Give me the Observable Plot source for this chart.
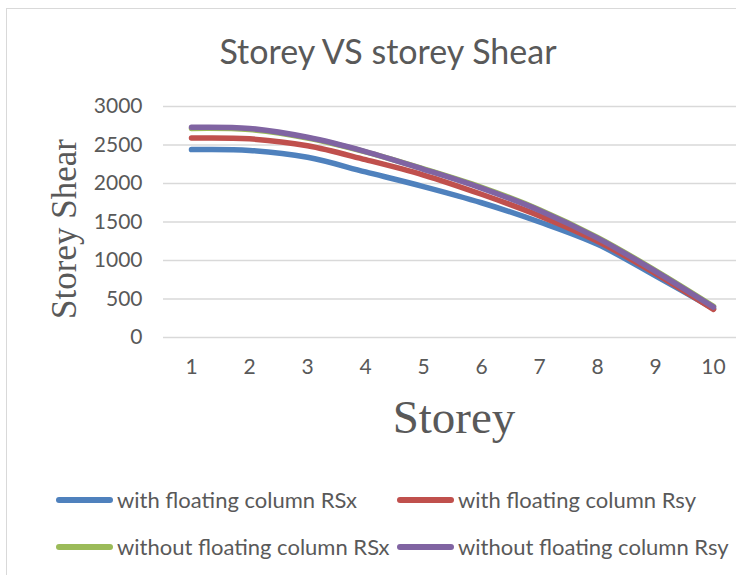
<!DOCTYPE html>
<html>
<head>
<meta charset="utf-8">
<script src="https://cdn.jsdelivr.net/npm/d3@7"></script>
<script src="https://cdn.jsdelivr.net/npm/@observablehq/plot@0.6"></script>
<style>
  html, body { margin: 0; padding: 0; background: #ffffff; }
  #chart { position: relative; width: 736px; height: 575px; overflow: hidden; background: #ffffff; font-family: Lato, "Open Sans", sans-serif; color: #595959; }
  .bt { position: absolute; left: 6px; top: 8px; width: 740px; height: 0; border-top: 1.5px solid #d9d9d9; }
  .bl { position: absolute; left: 6px; top: 8px; width: 0; height: 580px; border-left: 1.5px solid #d9d9d9; }
  #title { position: absolute; left: 20px; top: 31px; width: 736px; text-align: center; font-size: 34px; line-height: 40px; white-space: nowrap; }
  #plot { position: absolute; left: 0; top: 0; }
  .leg { position: absolute; height: 30px; display: flex; align-items: center; font-size: 22px; line-height: 30px; white-space: nowrap; }
  .sw { display: inline-block; width: 57px; height: 5.5px; border-radius: 3px; margin-right: 4px; }
</style>
</head>
<body>
<div id="chart">
  <div class="bt"></div>
  <div class="bl"></div>
  <div id="plot"></div>
  <div id="title"></div>
  <div id="legend"></div>
</div>
<script>
// ---- data ----
const titleText = "Storey VS storey Shear";
const xTitle = "Storey";
const yTitle = "Storey Shear";
const storeys = [1, 2, 3, 4, 5, 6, 7, 8, 9, 10];
const yTicks = [0, 500, 1000, 1500, 2000, 2500, 3000];
const seriesNames = [
  "with floating column RSx",
  "with floating column Rsy",
  "without floating column RSx",
  "without floating column Rsy"
];
const seriesColors = ["#4F81BD", "#C0504D", "#9BBB59", "#8064A2"];
const withRSx     = [2440, 2430, 2340, 2150, 1960, 1750, 1500, 1210, 800, 375];
const withRsy     = [2590, 2580, 2490, 2310, 2110, 1860, 1580, 1250, 830, 365];
const withoutRSx  = [2715, 2700, 2590, 2410, 2190, 1950, 1660, 1300, 870, 405];
const withoutRsy  = [2730, 2715, 2600, 2415, 2185, 1940, 1650, 1290, 860, 395];
const seriesValues = [withRSx, withRsy, withoutRSx, withoutRsy];

const data = seriesNames.flatMap((name, s) =>
  storeys.map((st, i) => ({ storey: st, shear: seriesValues[s][i], series: name }))
);

const plot = Plot.plot({
  width: 736,
  height: 470,
  marginLeft: 163,
  marginRight: 0,
  marginTop: 106,
  marginBottom: 133,
  x: { type: "point", domain: storeys, range: [190, 714], padding: 0 },
  y: { domain: [0, 3000], range: [337, 106] },
  color: { domain: seriesNames, range: seriesColors },
  style: { fontFamily: "Lato, 'Open Sans', sans-serif", fontSize: "21px", color: "#595959", background: "transparent", overflow: "visible" },
  marks: [
    Plot.ruleY(yTicks, { stroke: "#d9d9d9", strokeWidth: 1.5 }),
    Plot.axisY({ ticks: yTicks, tickFormat: d => String(d), tickSize: 0, tickPadding: 21, label: null, fontSize: 21, fill: "#595959" }),
    Plot.axisX({ tickFormat: d => String(d), tickSize: 0, tickPadding: 22, label: null, fontSize: 21, fill: "#595959" }),
    Plot.line(data, {
      x: "storey", y: "shear", stroke: "series", z: "series",
      strokeWidth: 5.5, curve: "catmull-rom", strokeLinecap: "round", strokeLinejoin: "round"
    }),
    Plot.text([xTitle], { text: d => d, frameAnchor: "bottom", textAnchor: "middle", lineAnchor: "middle", dx: 4, dy: 80, fontSize: 47, fontFamily: "'Liberation Serif', 'DejaVu Serif', serif", fill: "#595959" }),
    Plot.text([yTitle], { text: d => d, frameAnchor: "left", textAnchor: "middle", lineAnchor: "middle", dx: -99, dy: 7, rotate: -90, fontSize: 35, fontFamily: "'Liberation Serif', 'DejaVu Serif', serif", fill: "#595959" })
  ]
});
document.getElementById("plot").appendChild(plot);
document.getElementById("title").textContent = titleText;

// legend
const legendPos = [
  { left: 56, top: 485 },
  { left: 397, top: 485 },
  { left: 56, top: 532 },
  { left: 397, top: 532 }
];
const legend = document.getElementById("legend");
seriesNames.forEach((name, i) => {
  const item = document.createElement("div");
  item.className = "leg";
  item.style.left = legendPos[i].left + "px";
  item.style.top = legendPos[i].top + "px";
  const sw = document.createElement("span");
  sw.className = "sw";
  sw.style.background = seriesColors[i];
  const tx = document.createElement("span");
  tx.textContent = name;
  item.appendChild(sw);
  item.appendChild(tx);
  legend.appendChild(item);
});
</script>
</body>
</html>
